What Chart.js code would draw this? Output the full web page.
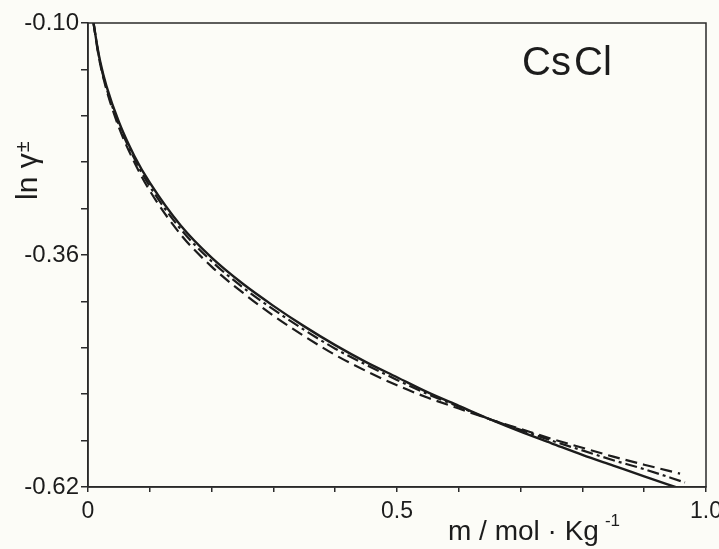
<!DOCTYPE html>
<html>
<head>
<meta charset="utf-8">
<script src="https://cdn.jsdelivr.net/npm/chart.js@4.4.1/dist/chart.umd.min.js"></script>
<style>
  html, body { margin: 0; padding: 0; background: #fcfcf7; }
  canvas { display: block; }
</style>
</head>
<body>
<canvas id="graficoCsCl" width="719" height="549"></canvas>
<script>
// molality (mol/kg) shared by the three curves, last point of each curve is separate
const molality = [0.009, 0.015, 0.02, 0.03, 0.05, 0.075, 0.1, 0.15, 0.2, 0.25, 0.3, 0.35,
  0.4, 0.45, 0.5, 0.55, 0.6, 0.65, 0.7, 0.75, 0.8, 0.85, 0.9];
const endMolality = [0.955, 0.958, 0.966];

// ln gamma +-
const lnSolid = [-0.100, -0.126, -0.144, -0.171, -0.211, -0.249, -0.279, -0.327, -0.363, -0.392,
  -0.417, -0.440, -0.461, -0.480, -0.497, -0.514, -0.529, -0.544, -0.558, -0.571, -0.584, -0.596,
  -0.608, -0.621];
const lnDashed = [-0.100, -0.128, -0.147, -0.175, -0.217, -0.256, -0.288, -0.337, -0.373, -0.402,
  -0.428, -0.451, -0.472, -0.490, -0.506, -0.520, -0.532, -0.544, -0.555, -0.566, -0.576, -0.586,
  -0.595, -0.605];
const lnDashDot = [-0.100, -0.127, -0.146, -0.173, -0.214, -0.252, -0.283, -0.331, -0.367, -0.396,
  -0.421, -0.444, -0.465, -0.483, -0.500, -0.516, -0.530, -0.544, -0.556, -0.568, -0.579, -0.590,
  -0.600, -0.615];

const xTicks = [0, 0.1, 0.2, 0.3, 0.4, 0.5, 0.6, 0.7, 0.8, 0.9, 1.0];
const xTickLabels = ['0', '', '', '', '', '0.5', '', '', '', '', '1.0'];
const yTicks = [-0.62, -0.568, -0.516, -0.464, -0.412, -0.36, -0.308, -0.256, -0.204, -0.152, -0.10];
const yTickLabels = ['-0.62', '', '', '', '', '-0.36', '', '', '', '', '-0.10'];

const ink = '#1c1c1c';
const family = '"Liberation Sans", Arial, sans-serif';

function punti(valori, mFine) {
  return valori.map((v, i) => ({ x: i < molality.length ? molality[i] : mFine, y: v }));
}

const cornice = {
  id: 'cornice',
  afterDraw(chart) {
    const { ctx, chartArea: a } = chart;
    ctx.save();
    ctx.strokeStyle = '#2a2a2a';
    ctx.lineWidth = 1.5;
    ctx.strokeRect(a.left, a.top, a.right - a.left, a.bottom - a.top);

    ctx.fillStyle = ink;
    ctx.textBaseline = 'alphabetic';
    ctx.textAlign = 'left';

    // salt name
    ctx.font = '40px ' + family;
    ctx.fillText('Cs', 522, 75);
    ctx.fillText('Cl', 574, 75);

    // x title
    ctx.font = '28px ' + family;
    ctx.fillText('m / mol · Kg', 448, 540);
    const w = ctx.measureText('m / mol · Kg').width;
    ctx.font = '17px ' + family;
    ctx.fillText('-1', 448 + w + 6, 526);

    // y title
    ctx.translate(37, 200);
    ctx.rotate(-Math.PI / 2);
    ctx.font = '30px ' + family;
    ctx.fillText('ln γ', 0, 0);
    const wy = ctx.measureText('ln γ').width;
    ctx.font = '20px ' + family;
    ctx.fillText('±', wy + 1, -8);
    ctx.restore();
  }
};

function serie(label, valori, mFine, dash, width) {
  return {
    label,
    data: punti(valori, mFine),
    borderColor: ink,
    borderWidth: width,
    borderDash: dash,
    pointRadius: 0,
    fill: false,
    cubicInterpolationMode: 'monotone'
  };
}

new Chart(document.getElementById('graficoCsCl').getContext('2d'), {
  type: 'line',
  data: {
    datasets: [
      serie('solid', lnSolid, endMolality[0], [], 2.4),
      serie('dashed', lnDashed, endMolality[1], [12, 6], 2.2),
      serie('dash-dot', lnDashDot, endMolality[2], [12, 4, 3, 4], 2.2)
    ]
  },
  options: {
    responsive: false,
    animation: false,
    devicePixelRatio: 1,
    layout: { padding: { top: 23, right: 13, left: 0, bottom: 0 } },
    plugins: { legend: { display: false }, tooltip: { enabled: false } },
    scales: {
      x: {
        type: 'linear',
        min: 0,
        max: 1,
        afterBuildTicks: s => { s.ticks = xTicks.map(v => ({ value: v })); },
        afterFit: s => { s.height = 62; s.paddingLeft = 0; s.paddingRight = 0; },
        grid: { drawOnChartArea: false, drawTicks: true, tickLength: 5, color: '#2a2a2a', lineWidth: 1.5 },
        border: { color: '#2a2a2a', width: 1.5 },
        ticks: {
          color: ink,
          font: { family, size: 23 },
          padding: 6,
          maxRotation: 0,
          autoSkip: false,
          callback: (v, i) => xTickLabels[i]
        }
      },
      y: {
        type: 'linear',
        min: -0.62,
        max: -0.10,
        afterBuildTicks: s => { s.ticks = yTicks.map(v => ({ value: v })); },
        afterFit: s => { s.width = 88; s.paddingTop = 0; s.paddingBottom = 0; },
        grid: { drawOnChartArea: false, drawTicks: true, tickLength: 7, color: '#2a2a2a', lineWidth: 1.5 },
        border: { color: '#2a2a2a', width: 1.5 },
        ticks: {
          color: ink,
          font: { family, size: 24 },
          padding: 2,
          autoSkip: false,
          callback: (v, i) => yTickLabels[i]
        }
      }
    }
  },
  plugins: [cornice]
});
</script>
</body>
</html>
